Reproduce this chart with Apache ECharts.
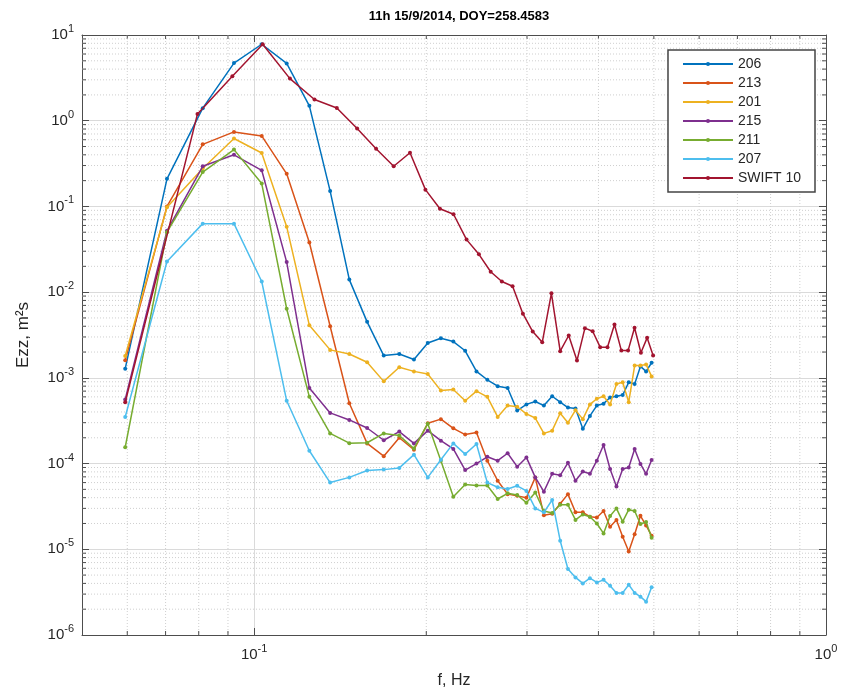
<!DOCTYPE html>
<html><head><meta charset="utf-8">
<script src="https://cdn.jsdelivr.net/npm/echarts@6/dist/echarts.min.js"></script>
<style>html,body{margin:0;padding:0;background:#fff}#c{width:848px;height:694px}</style>
</head><body><div id="c"></div>
<script>
// Frequencies (Hz)
const freqBuoy = [0.0595,0.0704,0.0813,0.0922,0.1031,0.1140,0.1249,0.1358,0.1467,0.1576,0.1685,0.1794,0.1903,0.2012,0.2121,0.2230,0.2339,0.2448,0.2557,0.2666,0.2775,0.2884,0.2993,0.3102,0.3211,0.3320,0.3429,0.3538,0.3647,0.3756,0.3865,0.3974,0.4083,0.4192,0.4301,0.4410,0.4519,0.4628,0.4737,0.4846,0.4955];
const freqSwift = [0.0595,0.0796,0.0916,0.1035,0.1155,0.1275,0.1395,0.1514,0.1634,0.1754,0.1873,0.1993,0.2113,0.2232,0.2352,0.2472,0.2592,0.2711,0.2831,0.2951,0.3070,0.3190,0.3310,0.3429,0.3549,0.3669,0.3788,0.3908,0.4028,0.4148,0.4267,0.4387,0.4507,0.4626,0.4746,0.4866,0.4985];

// Ezz values (m^2 s)
const e206 = [1.28e-3,0.21,1.4,4.7,7.8,4.66,1.49,0.151,0.014,4.5e-3,1.82e-3,1.9e-3,1.64e-3,2.55e-3,2.9e-3,2.65e-3,2.07e-3,1.19e-3,9.5e-4,8.0e-4,7.6e-4,4.15e-4,4.9e-4,5.3e-4,4.75e-4,6.1e-4,5.2e-4,4.5e-4,4.4e-4,2.54e-4,3.6e-4,4.75e-4,5.0e-4,5.9e-4,6.1e-4,6.3e-4,8.9e-4,8.5e-4,1.36e-3,1.19e-3,1.5e-3];
const e213 = [1.6e-3,0.1,0.53,0.74,0.664,0.24,0.038,4.0e-3,5.05e-4,1.72e-4,1.22e-4,2.0e-4,1.45e-4,2.95e-4,3.3e-4,2.58e-4,2.18e-4,2.3e-4,1.08e-4,6.3e-5,4.4e-5,4.2e-5,4.0e-5,6.9e-5,2.5e-5,2.6e-5,3.4e-5,4.4e-5,2.7e-5,2.7e-5,2.4e-5,2.35e-5,2.8e-5,1.83e-5,2.2e-5,1.4e-5,9.4e-6,1.5e-5,2.46e-5,1.9e-5,1.44e-5];
const e201 = [1.8e-3,0.098,0.277,0.62,0.42,0.058,4.1e-3,2.12e-3,1.9e-3,1.52e-3,9.1e-4,1.33e-3,1.19e-3,1.11e-3,7.1e-4,7.3e-4,5.4e-4,7.0e-4,6.0e-4,3.5e-4,4.75e-4,4.6e-4,3.8e-4,3.4e-4,2.25e-4,2.42e-4,3.86e-4,3.0e-4,4.2e-4,3.3e-4,4.9e-4,5.7e-4,6.1e-4,4.9e-4,8.5e-4,8.9e-4,5.2e-4,1.39e-3,1.39e-3,1.43e-3,1.04e-3];
const e215 = [5.6e-4,0.052,0.294,0.40,0.264,0.0224,7.6e-4,3.9e-4,3.23e-4,2.6e-4,1.87e-4,2.36e-4,1.72e-4,2.42e-4,1.85e-4,1.48e-4,8.4e-5,1.0e-4,1.2e-4,1.08e-4,1.32e-4,9.2e-5,1.18e-4,6.9e-5,4.7e-5,7.6e-5,7.3e-5,1.02e-4,6.3e-5,8.1e-5,7.6e-5,1.08e-4,1.65e-4,8.65e-5,5.4e-5,8.65e-5,9.0e-5,1.48e-4,9.9e-5,7.6e-5,1.1e-4];
const e211 = [1.55e-4,0.05,0.252,0.46,0.185,6.4e-3,6.0e-4,2.25e-4,1.73e-4,1.75e-4,2.25e-4,2.12e-4,1.5e-4,2.92e-4,1.08e-4,4.1e-5,5.7e-5,5.55e-5,5.55e-5,3.86e-5,4.5e-5,4.3e-5,3.5e-5,4.6e-5,2.8e-5,2.65e-5,3.3e-5,3.3e-5,2.2e-5,2.55e-5,2.4e-5,2.0e-5,1.53e-5,2.45e-5,3.0e-5,2.1e-5,2.9e-5,2.8e-5,1.97e-5,2.08e-5,1.36e-5];
const e207 = [3.5e-4,0.0228,0.063,0.063,0.0133,5.4e-4,1.41e-4,6.0e-5,6.9e-5,8.3e-5,8.5e-5,8.9e-5,1.27e-4,6.9e-5,1.11e-4,1.72e-4,1.29e-4,1.69e-4,6.0e-5,5.3e-5,5.05e-5,5.5e-5,4.8e-5,3.0e-5,2.7e-5,3.76e-5,1.26e-5,5.9e-6,4.7e-6,4.0e-6,4.6e-6,4.1e-6,4.4e-6,3.75e-6,3.1e-6,3.1e-6,3.85e-6,3.1e-6,2.8e-6,2.45e-6,3.6e-6];
const eSwift = [5.2e-4,1.2,3.3,7.8,3.1,1.77,1.41,0.81,0.47,0.294,0.423,0.157,0.094,0.081,0.041,0.0276,0.0173,0.0133,0.0117,5.6e-3,3.47e-3,2.6e-3,9.7e-3,2.05e-3,3.12e-3,1.59e-3,3.8e-3,3.5e-3,2.28e-3,2.28e-3,4.2e-3,2.08e-3,2.08e-3,3.84e-3,1.96e-3,2.93e-3,1.82e-3];

const seriesNames = ['206','213','201','215','211','207','SWIFT 10'];
const seriesFreqs = [freqBuoy,freqBuoy,freqBuoy,freqBuoy,freqBuoy,freqBuoy,freqSwift];
const seriesValues = [e206,e213,e201,e215,e211,e207,eSwift];
const seriesColors = ['#0072BD','#D95319','#EDB120','#7E2F8E','#77AC30','#4DBEEE','#A2142F'];

// Minor grid positions (MATLAB style 2..9 per decade)
const xMinorTicks = [0.06,0.07,0.08,0.09,0.2,0.3,0.4,0.5,0.6,0.7,0.8,0.9];
const yDecades = [-6,-5,-4,-3,-2,-1,0];
const yMinorMult = [2,3,4,5,6,7,8,9];
const yMinorTicks = [];
yDecades.forEach(d => yMinorMult.forEach(m => yMinorTicks.push(m * Math.pow(10, d))));

const FONT = 'Liberation Sans, Arial, Helvetica, sans-serif';
const TXT = '#262626';
const AX = '#4d4d4d';

function powLabel(v) {
  const l = Math.log10(v);
  const e = Math.round(l);
  if (Math.abs(l - e) > 1e-6) return '';
  return '{b|10}{s|' + e + '}';
}
const richLbl = {
  b: {fontSize: 15, color: TXT, fontFamily: FONT},
  s: {fontSize: 11, color: TXT, fontFamily: FONT, padding: [0, 0, 12, 0]}
};

function xMinorItem(params, api) {
  const cs = params.coordSys;
  const px = api.coord([api.value(0), 1])[0];
  return {type: 'group', children: [
    {type: 'line', shape: {x1: px, y1: cs.y, x2: px, y2: cs.y + cs.height}, style: {stroke: '#cfcfcf', lineWidth: 1, lineDash: [1, 2]}},
    {type: 'line', shape: {x1: px, y1: cs.y + cs.height, x2: px, y2: cs.y + cs.height - 4}, style: {stroke: AX, lineWidth: 1}},
    {type: 'line', shape: {x1: px, y1: cs.y, x2: px, y2: cs.y + 4}, style: {stroke: AX, lineWidth: 1}}
  ]};
}
function yMinorItem(params, api) {
  const cs = params.coordSys;
  const py = api.coord([0.1, api.value(1)])[1];
  return {type: 'group', children: [
    {type: 'line', shape: {x1: cs.x, y1: py, x2: cs.x + cs.width, y2: py}, style: {stroke: '#cfcfcf', lineWidth: 1, lineDash: [1, 2]}},
    {type: 'line', shape: {x1: cs.x, y1: py, x2: cs.x + 4, y2: py}, style: {stroke: AX, lineWidth: 1}},
    {type: 'line', shape: {x1: cs.x + cs.width, y1: py, x2: cs.x + cs.width - 4, y2: py}, style: {stroke: AX, lineWidth: 1}}
  ]};
}

const dataSeries = seriesNames.map((name, i) => ({
  name: name,
  type: 'line',
  data: seriesFreqs[i].map((f, j) => [f, seriesValues[i][j]]),
  xAxisIndex: 0, yAxisIndex: 0,
  symbol: 'circle', symbolSize: 4,
  showSymbol: true,
  lineStyle: {width: 1.5, color: seriesColors[i]},
  itemStyle: {color: seriesColors[i]},
  emphasis: {disabled: true},
  animation: false,
  z: 10 + i
}));

const baseX = {
  type: 'log', min: 0.05, max: 1, logBase: 10,
  axisLine: {show: true, lineStyle: {color: AX, width: 1}},
  axisTick: {show: true, inside: true, length: 7, lineStyle: {color: AX}},
  splitLine: {show: false},
  minorTick: {show: false}
};
const baseY = {
  type: 'log', min: 1e-6, max: 10, logBase: 10,
  axisLine: {show: true, lineStyle: {color: AX, width: 1}},
  axisTick: {show: true, inside: true, length: 7, lineStyle: {color: AX}},
  splitLine: {show: false}
};

const option = {
  backgroundColor: '#ffffff',
  animation: false,
  textStyle: {fontFamily: FONT},
  title: {
    text: '11h 15/9/2014, DOY=258.4583',
    left: 454, top: 5, textAlign: 'center',
    textStyle: {fontSize: 13, fontWeight: 'bold', color: '#000', fontFamily: FONT}
  },
  grid: {left: 82, right: 22, top: 35, bottom: 59, containLabel: false},
  legend: {
    data: seriesNames,
    orient: 'vertical',
    right: 33, top: 50,
    backgroundColor: '#ffffff',
    borderColor: '#444',
    borderWidth: 1.5,
    padding: [7, 14, 7, 14],
    itemWidth: 50, itemHeight: 5, itemGap: 5,
    textStyle: {fontSize: 14, color: TXT, fontFamily: FONT},
    selectedMode: false
  },
  xAxis: [
    Object.assign({}, baseX, {
      position: 'bottom',
      name: 'f, Hz', nameLocation: 'middle', nameGap: 38,
      nameTextStyle: {fontSize: 16, color: TXT, fontFamily: FONT},
      axisLabel: {show: true, margin: 8, formatter: powLabel, rich: richLbl, showMinLabel: false},
      splitLine: {show: true, lineStyle: {color: '#dadada', width: 1}}
    }),
    Object.assign({}, baseX, {position: 'top', axisLabel: {show: false}})
  ],
  yAxis: [
    Object.assign({}, baseY, {
      position: 'left',
      name: 'Ezz, m²s', nameLocation: 'middle', nameGap: 50, nameRotate: 90,
      nameTextStyle: {fontSize: 17, color: TXT, fontFamily: FONT},
      axisLabel: {show: true, margin: 8, formatter: powLabel, rich: richLbl},
      splitLine: {show: true, lineStyle: {color: '#dadada', width: 1}}
    }),
    Object.assign({}, baseY, {position: 'right', axisLabel: {show: false}})
  ],
  series: [
    {type: 'custom', name: 'xminor', silent: true, z: 1, xAxisIndex: 0, yAxisIndex: 0,
     data: xMinorTicks.map(v => [v, 1]), renderItem: xMinorItem, animation: false},
    {type: 'custom', name: 'yminor', silent: true, z: 1, xAxisIndex: 0, yAxisIndex: 0,
     data: yMinorTicks.map(v => [0.1, v]), renderItem: yMinorItem, animation: false}
  ].concat(dataSeries)
};

const chart = echarts.init(document.getElementById('c'), null, {renderer: 'canvas'});
chart.setOption(option);
</script>
</body></html>
